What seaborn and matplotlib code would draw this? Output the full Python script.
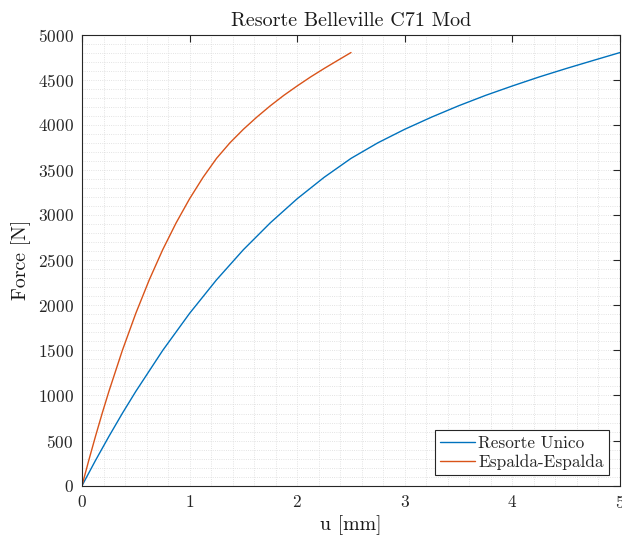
import matplotlib
matplotlib.use("Agg")
import matplotlib.pyplot as plt
import seaborn as sns
import pandas as pd
from matplotlib.ticker import MultipleLocator

# Single Belleville spring: deflection [mm] vs force [N]
u_single = [0.0, 0.125, 0.25, 0.375, 0.5, 0.75, 1.0, 1.25, 1.5, 1.75, 2.0, 2.25, 2.5,
            2.75, 3.0, 3.25, 3.5, 3.75, 4.0, 4.25, 4.5, 4.75, 5.0]
f_single = [0, 279, 546, 802, 1045, 1499, 1910, 2281, 2615, 2913, 3180, 3417, 3627,
            3800, 3950, 4085, 4210, 4325, 4430, 4530, 4623, 4712, 4800]

# Back-to-back stack
u_stack = [0.0, 0.0625, 0.125, 0.1875, 0.25, 0.375, 0.5, 0.625, 0.75, 0.875, 1.0,
           1.125, 1.25, 1.375, 1.5, 1.625, 1.75, 1.875, 2.0, 2.125, 2.25, 2.375, 2.5]
f_stack = [0, 279, 546, 802, 1045, 1499, 1910, 2281, 2615, 2913, 3180, 3417, 3627,
           3800, 3950, 4085, 4210, 4325, 4430, 4530, 4623, 4712, 4800]

labels = ["Resorte Unico", "Espalda-Espalda"]
colors = ["#0072BD", "#D95319"]

df = pd.concat([
    pd.DataFrame({"u": u_single, "F": f_single, "serie": labels[0]}),
    pd.DataFrame({"u": u_stack, "F": f_stack, "serie": labels[1]}),
], ignore_index=True)

sns.set_theme(style="white")
plt.rcParams["font.family"] = ["cmr10", "DejaVu Serif"]
plt.rcParams["mathtext.fontset"] = "cm"
plt.rcParams["axes.formatter.use_mathtext"] = True
plt.rcParams["axes.unicode_minus"] = False

fig = plt.figure(figsize=(6.22, 5.42), dpi=100)
ax = fig.add_axes([82 / 622, 1 - 485.7 / 542, (620 - 82) / 622, (485.7 - 34.5) / 542])

sns.lineplot(data=df, x="u", y="F", hue="serie", palette=colors,
             hue_order=labels, sort=False, estimator=None, linewidth=1.0, ax=ax)

ax.set_xlim(0, 5)
ax.set_ylim(0, 5000)
ax.xaxis.set_major_locator(MultipleLocator(1))
ax.xaxis.set_minor_locator(MultipleLocator(0.2))
ax.yaxis.set_major_locator(MultipleLocator(500))
ax.yaxis.set_minor_locator(MultipleLocator(100))

ax.grid(True, which="both", linestyle=":", color="#dadada", linewidth=0.6)
ax.set_axisbelow(True)

for s in ax.spines.values():
    s.set_visible(True)
    s.set_color("#262626")
    s.set_linewidth(0.8)

ax.tick_params(axis="both", which="major", direction="in", length=5, width=0.8,
               color="#262626", labelsize=12.5, pad=6, top=True, right=True,
               labelcolor="#262626")
ax.tick_params(axis="both", which="minor", length=0, top=True, right=True)

ax.set_title("Resorte Belleville C71 Mod", fontsize=14.5, pad=6, color="#1a1a1a")
ax.set_xlabel("u [mm]", fontsize=14.3, labelpad=3, color="#1a1a1a")
ax.set_ylabel("Force [N]", fontsize=14.3, labelpad=5, color="#1a1a1a")

leg = ax.legend(loc="lower right", bbox_to_anchor=(0.9796, 0.0237), fontsize=12.4,
                frameon=True, fancybox=False, shadow=False, handlelength=2.0,
                handletextpad=0.2, borderpad=0.3, labelspacing=0.2,
                borderaxespad=0.0)
leg.get_frame().set_edgecolor("#262626")
leg.get_frame().set_linewidth(0.8)
leg.get_frame().set_facecolor("white")
leg.get_frame().set_alpha(1.0)

fig.savefig("out.png", dpi=100)
